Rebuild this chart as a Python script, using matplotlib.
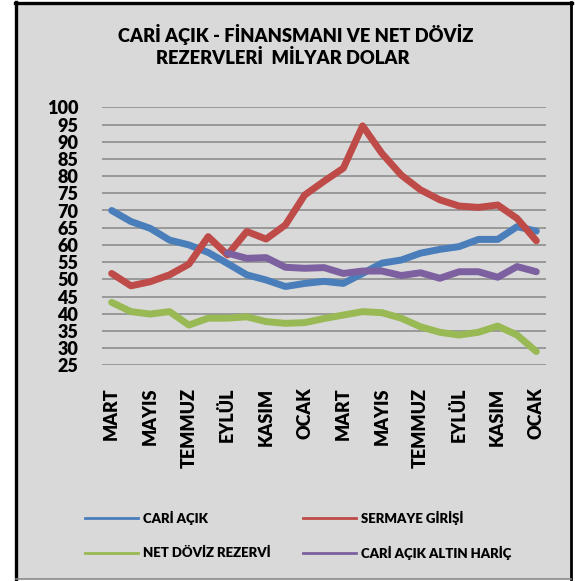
import matplotlib.pyplot as plt
import numpy as np
from matplotlib.lines import Line2D
from matplotlib.patches import Rectangle

plt.rcParams['font.family'] = ['Lato', 'DejaVu Sans']
plt.rcParams['font.weight'] = 'heavy'

# months, every other one is labelled on the axis
months = ["MART", "NİSAN", "MAYIS", "HAZİRAN", "TEMMUZ", "AĞUSTOS", "EYLÜL", "EKİM",
          "KASIM", "ARALIK", "OCAK", "ŞUBAT", "MART", "NİSAN", "MAYIS", "HAZİRAN",
          "TEMMUZ", "AĞUSTOS", "EYLÜL", "EKİM", "KASIM", "ARALIK", "OCAK"]

cari_acik = [70.0, 66.8, 64.8, 61.4, 60.0, 57.8, 54.6, 51.3, 49.8, 47.9, 48.8, 49.4,
             48.8, 51.7, 54.7, 55.6, 57.6, 58.7, 59.5, 61.6, 61.6, 65.3, 64.0]
sermaye_girisi = [51.7, 48.1, 49.3, 51.3, 54.4, 62.4, 57.1, 63.9, 61.7, 65.8, 74.5, 78.5,
                  82.3, 94.6, 86.6, 80.3, 76.0, 73.1, 71.3, 70.9, 71.6, 67.7, 61.2]
net_doviz = [43.3, 40.6, 39.9, 40.6, 36.7, 38.7, 38.7, 39.1, 37.7, 37.2, 37.4, 38.6,
             39.6, 40.6, 40.3, 38.7, 36.2, 34.6, 33.8, 34.6, 36.4, 33.8, 29.0]
altin_haric = [np.nan] * 6 + [57.6, 56.1, 56.3, 53.5, 53.2, 53.4, 51.7, 52.4, 52.4, 51.1,
                              51.9, 50.3, 52.2, 52.2, 50.6, 53.7, 52.2]

names = ["CARİ AÇIK", "SERMAYE GİRİŞİ", "NET DÖVİZ REZERVİ", "CARİ AÇIK ALTIN HARİÇ"]
colors = ["#4a7ebb", "#be4b48", "#98b954", "#7d60a0"]

W, H = 575, 581
fig = plt.figure(figsize=(W / 100, H / 100), dpi=100)


def fx(px):
    return px / W


def fy(py):
    return 1 - py / H


# chart area background and border
fig.patches.append(Rectangle((fx(16), fy(579)), fx(571) - fx(16), fy(3) - fy(579),
                             transform=fig.transFigure, facecolor="#d9d9d9",
                             edgecolor="none", zorder=-10))
for xs, ys, c, lw in [([16, 16], [2, 579], "black", 2.4),
                      ([15, 572], [3, 3], "black", 2.4),
                      ([571, 571], [2, 579], "black", 2.0),
                      ([16, 571], [579, 579], "#8a8a8a", 1.2)]:
    fig.add_artist(Line2D([fx(v) for v in xs], [fy(v) for v in ys],
                          transform=fig.transFigure, color=c, lw=lw))

ax = fig.add_axes([fx(102), fy(365.3), 444 / W, 258 / H])
ax.set_facecolor("none")

x = np.arange(len(months))
for values, color, name in zip([cari_acik, sermaye_girisi, net_doviz, altin_haric], colors, names):
    ax.plot(x, values, color=color, lw=5, solid_capstyle="round",
            solid_joinstyle="round", label=name)

ax.set_xlim(-0.5, len(months) - 0.5)
ax.set_ylim(25, 100)
ax.set_yticks(range(25, 101, 5))
ax.yaxis.grid(True, color="#878787", lw=1.1)
ax.set_axisbelow(True)
for s in ax.spines.values():
    s.set_visible(False)
ax.tick_params(length=0)
ax.tick_params(axis="y", pad=17, labelsize=13)
ax.set_xticks(x[::2])
ax.set_xticklabels(months[::2], rotation=90, fontsize=13)
ax.tick_params(axis="x", pad=16)

# title
fig.text(fx(296), fy(34.5), "CARİ AÇIK - FİNANSMANI VE NET DÖVİZ", ha="center",
         va="center", fontsize=13.2)
fig.text(fx(283), fy(58), "REZERVLERİ  MİLYAR DOLAR", ha="center", va="center",
         fontsize=13.2)

# legend, two columns
for i, (name, color) in enumerate(zip(names, colors)):
    x0 = [85, 303][i % 2]
    y0 = [517.5, 553][i // 2]
    fig.add_artist(Line2D([fx(x0), fx(x0 + 53)], [fy(y0), fy(y0)],
                          transform=fig.transFigure, color=color, lw=2))
    fig.text(fx(x0 + 58), fy(y0), name, va="center", fontsize=9.5)

fig.savefig("out.png", dpi=100)
